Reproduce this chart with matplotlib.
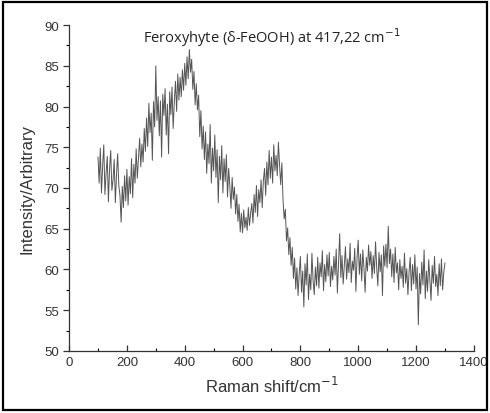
import numpy as np
import matplotlib
matplotlib.use("Agg")
import matplotlib.pyplot as plt
from matplotlib.patches import Rectangle
from matplotlib.ticker import MultipleLocator

# Raman spectrum, one point every 4 cm-1 from 100 to 1300
shift = np.arange(100, 1301, 4)

intensity_100_196 = [73.8, 70.6, 74.9, 69.4, 72.7, 75.3, 69.2, 71.8, 73.9, 68.3,
                     72.4, 74.6, 69.7, 71.0, 73.5, 68.2, 71.6, 74.2, 70.3, 69.1,
                     65.8, 70.2, 67.6, 71.5, 68.4]
intensity_200_296 = [72.3, 67.9, 71.4, 69.3, 73.6, 68.8, 72.9, 70.6, 74.8, 71.2,
                     73.7, 76.1, 72.6, 75.4, 73.2, 77.3, 74.5, 78.6, 75.1, 80.4,
                     76.8, 79.2, 73.4, 80.6, 77.5]
intensity_300_396 = [85.0, 78.3, 81.2, 76.4, 80.7, 73.8, 81.5, 78.9, 82.2, 76.5,
                     80.3, 74.2, 81.8, 79.0, 82.4, 77.3, 80.6, 83.1, 79.4, 84.0,
                     80.8, 83.6, 81.2, 84.5, 82.0]
intensity_400_496 = [85.3, 82.6, 86.1, 83.4, 87.0, 84.2, 85.8, 82.1, 84.3, 80.2,
                     82.8, 79.6, 81.4, 76.3, 79.5, 74.8, 77.6, 73.5, 76.9, 71.8,
                     75.4, 73.0, 77.8, 70.6, 74.9]
intensity_500_596 = [72.1, 76.5, 71.3, 74.7, 68.2, 73.9, 71.0, 75.2, 69.4, 73.6,
                     70.8, 74.1, 68.9, 72.4, 70.2, 67.5, 71.3, 68.6, 70.1, 66.8,
                     69.2, 65.9, 68.0, 64.6, 66.9]
intensity_600_696 = [64.5, 67.3, 65.1, 66.4, 64.8, 67.6, 65.4, 66.9, 68.1, 65.7,
                     69.2, 67.0, 70.3, 66.5, 69.8, 68.2, 71.0, 67.6, 70.9, 72.4,
                     69.1, 73.2, 70.4, 74.6, 71.2]
intensity_700_796 = [73.8, 70.6, 75.3, 72.1, 74.0, 71.5, 75.6, 72.8, 70.4, 73.1,
                     68.5, 66.2, 67.4, 63.5, 65.1, 61.8, 63.9, 60.5, 62.7, 58.9,
                     61.4, 57.6, 60.2, 56.8, 59.5]
intensity_800_896 = [61.6, 57.2, 59.8, 55.4, 60.7, 58.1, 61.9, 56.3, 59.4, 57.5,
                     62.0, 58.6, 56.9, 60.3, 58.0, 61.5, 57.7, 60.8, 59.1, 62.3,
                     57.4, 60.6, 58.5, 61.8, 59.2]
intensity_900_996 = [62.1, 57.9, 60.4, 58.7, 61.6, 59.3, 62.5, 57.1, 60.9, 64.4,
                     59.0, 61.7, 58.2, 60.6, 62.8, 58.8, 61.3, 59.6, 63.2, 58.4,
                     61.0, 59.9, 62.6, 57.3, 61.4]
intensity_1000_1096 = [63.6, 59.4, 61.9, 58.6, 62.4, 60.1, 57.2, 61.5, 59.8, 63.0,
                       60.5, 62.2, 58.9, 61.7, 59.5, 63.4, 60.2, 58.0, 62.1, 59.7,
                       61.8, 56.8, 62.9, 60.4, 63.1]
intensity_1100_1196 = [60.2, 65.3, 60.7, 62.5, 59.1, 61.9, 58.4, 62.7, 59.6, 60.8,
                       57.5, 61.2, 58.9, 60.4, 57.8, 62.0, 58.3, 60.1, 56.9, 59.7,
                       61.5, 57.4, 60.6, 58.2, 61.8]
intensity_1200_1300 = [57.6, 60.3, 53.2, 59.5, 57.0, 60.9, 58.1, 62.4, 56.4, 59.8,
                       57.3, 61.2, 58.6, 56.2, 60.5, 58.3, 61.6, 57.9, 59.4, 56.8,
                       60.7, 58.0, 61.3, 57.5, 59.6, 60.8]

intensity = (intensity_100_196 + intensity_200_296 + intensity_300_396 +
             intensity_400_496 + intensity_500_596 + intensity_600_696 +
             intensity_700_796 + intensity_800_896 + intensity_900_996 +
             intensity_1000_1096 + intensity_1100_1196 + intensity_1200_1300)

title = "Feroxyhyte (δ-FeOOH) at 417,22 cm$^{-1}$"

plt.rcParams["font.family"] = ["Liberation Sans", "DejaVu Sans"]

fig = plt.figure(figsize=(4.9, 4.14), dpi=100)
ax = fig.add_axes([0.141, 0.150, 0.826, 0.787])

ax.plot(shift, intensity, color="#555555", lw=0.7)

ax.set_xlim(0, 1400)
ax.set_ylim(50, 90)
ax.xaxis.set_major_locator(MultipleLocator(200))
ax.xaxis.set_minor_locator(MultipleLocator(100))
ax.yaxis.set_major_locator(MultipleLocator(5))
ax.yaxis.set_minor_locator(MultipleLocator(2.5))

ax.spines["top"].set_visible(False)
ax.spines["right"].set_visible(False)
for s in ("left", "bottom"):
    ax.spines[s].set_linewidth(0.9)
    ax.spines[s].set_color("#333333")

ax.tick_params(axis="x", which="major", direction="in", length=4, width=0.9,
               labelsize=9.5, colors="#333333", pad=4)
ax.tick_params(axis="x", which="minor", direction="in", length=2.5, width=0.8)
ax.tick_params(axis="y", which="major", direction="out", length=4, width=0.9,
               labelsize=9.5, colors="#333333", pad=3)
ax.tick_params(axis="y", which="minor", direction="out", length=2.5, width=0.8)

ax.set_xlabel("Raman shift/cm$^{-1}$", fontsize=12, color="#333333", labelpad=5)
ax.set_ylabel("Intensity/Arbitrary", fontsize=12, color="#333333", labelpad=7)

ax.text(0.5, 1.0, title, transform=ax.transAxes, ha="center", va="top",
        fontsize=10.5, family=["Open Sans", "DejaVu Sans"], color="#222222")

# black frame round the whole picture
fig.patches.append(Rectangle((0.006, 0.007), 0.988, 0.986, transform=fig.transFigure,
                             fill=False, edgecolor="black", lw=1.6))

fig.savefig("out.png", dpi=100)
